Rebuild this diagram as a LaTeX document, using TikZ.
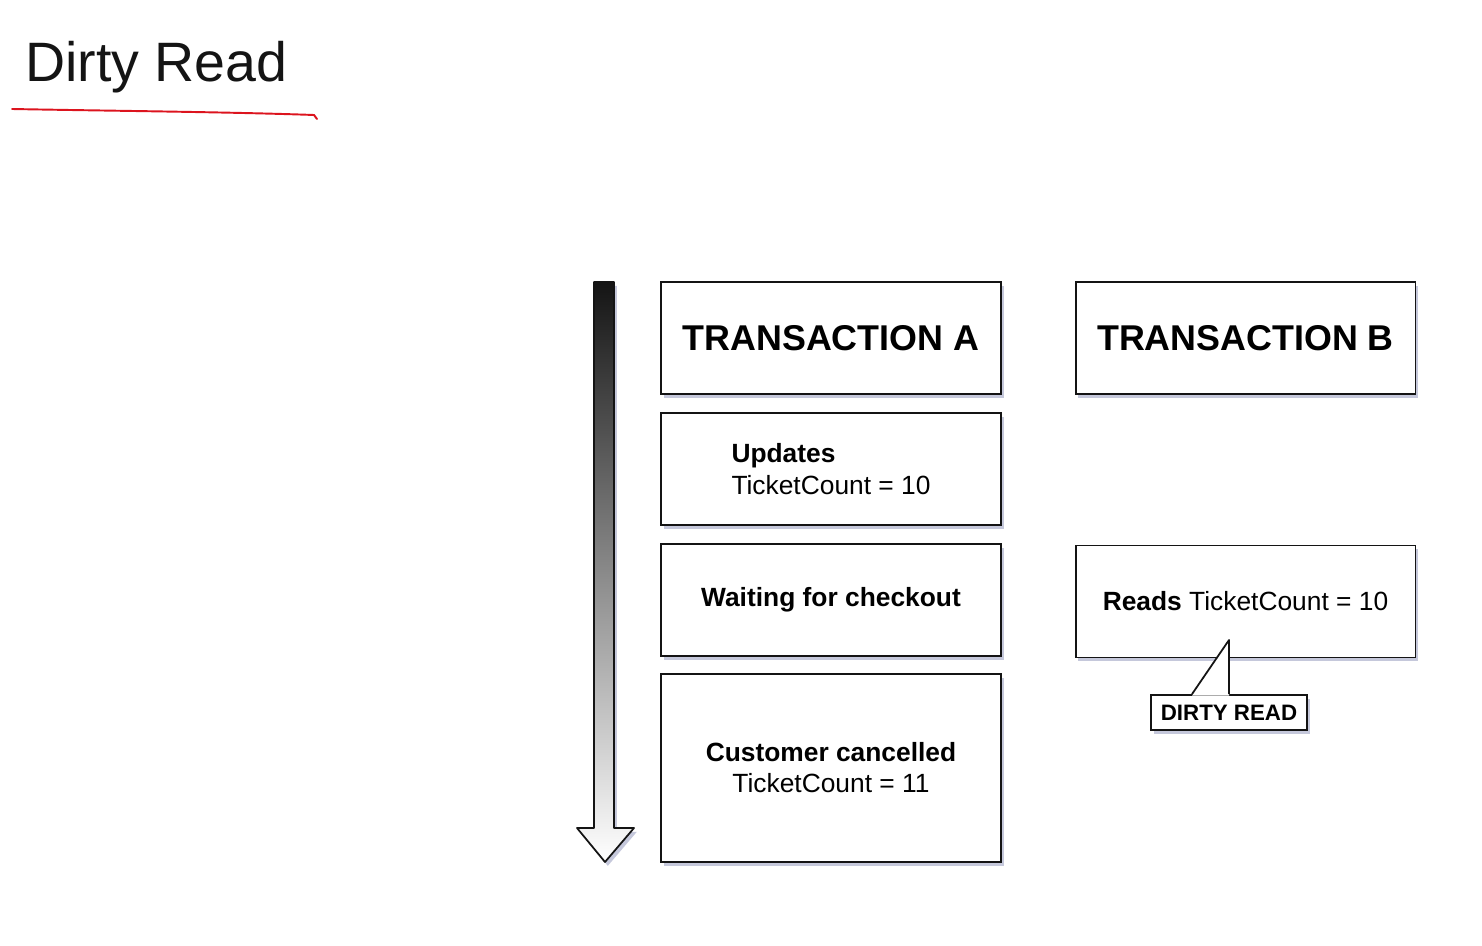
\documentclass[tikz,border=0pt]{standalone}
\usepackage{fontspec}
\setmainfont{Liberation Sans}
\usepackage{xcolor}
\definecolor{InkBlack}   {RGB}{20,  20,  20}
\definecolor{PenRed}     {RGB}{220, 20,  30}
\definecolor{ShadowBlue} {RGB}{150, 155, 190}
\usetikzlibrary{
  arrows.meta,
  positioning,
  calc,
  shadows
}

\begin{document}
\begin{tikzpicture}[
  x=0.02cm, y=-0.02cm,
  font=\fontsize{15}{18}\selectfont,
  soft shadow/.style={
    drop shadow={shadow xshift=1.6pt,
      shadow yshift=-2.2pt,
      fill=ShadowBlue, opacity=.55}},
  header/.style={
    draw=InkBlack, fill=white,
    line width=1.1pt,
    minimum width=6.8cm,
    minimum height=2.24cm,
    font=\fontsize{20.4}{24}\selectfont\bfseries,
    soft shadow},
  stepbox/.style={
    draw=InkBlack, fill=white,
    line width=1.1pt,
    minimum width=6.8cm,
    minimum height=2.24cm,
    soft shadow},
  callout/.style={
    draw=InkBlack, fill=white,
    line width=1pt,
    minimum width=3.12cm,
    minimum height=0.7cm,
    inner sep=2pt,
    font=\fontsize{12.7}{14}\selectfont\bfseries,
    soft shadow}
]
\useasboundingbox (0,0) rectangle (1482,946);

% title
\node[anchor=base west, inner sep=0pt,
  font=\fontsize{31.6}{36}\selectfont,
  text=InkBlack]
  (title) at (25,82) {Dirty Read};
\draw[PenRed, line width=1.1pt, line cap=round]
  (12,109) .. controls (120,111) and (230,112) .. (314,115)
  -- (317,119);

% time arrow
\coordinate (timetop) at (604,282);
\coordinate (timetip) at (605,862);
\path[draw=InkBlack, line width=1pt, line join=round,
  top color=black!92, bottom color=white, soft shadow]
  ($(timetop)+(-10,0)$) -- ($(timetop)+(10,0)$)
  -- (614,828) -- (634,828) -- (timetip)
  -- (577,828) -- (594,828) -- cycle;

% transaction A
\node[header] (txA) at (831,338) {TRANSACTION A};
\node[stepbox, below=0.34cm of txA, align=left]
  (update) {\textbf{Updates}\\TicketCount = 10};
\node[stepbox, below=0.34cm of update]
  (wait) {\textbf{Waiting for checkout}};
\node[stepbox, below=0.32cm of wait,
  minimum height=3.76cm, align=center]
  (cancel) {\textbf{Customer cancelled}\\TicketCount = 11};

% transaction B
\node[header] (txB) at (1245.5,338) {TRANSACTION B};
\node[stepbox] (reads) at (1245.5,601.5)
  {\textbf{Reads} TicketCount = 10};

% dirty read callout
\node[callout] (dirty) at (1229,712.5) {DIRTY READ};
\coordinate (peak) at (1229,640);
\fill[white] ($(dirty.north)+(-37,1.5)$) -- (peak)
  -- ($(dirty.north)+(0,1.5)$) -- cycle;
\draw[InkBlack, line width=1pt, line join=round]
  ($(dirty.north)+(-37,0)$) -- (peak) -- (dirty.north);

\end{tikzpicture}
\end{document}
